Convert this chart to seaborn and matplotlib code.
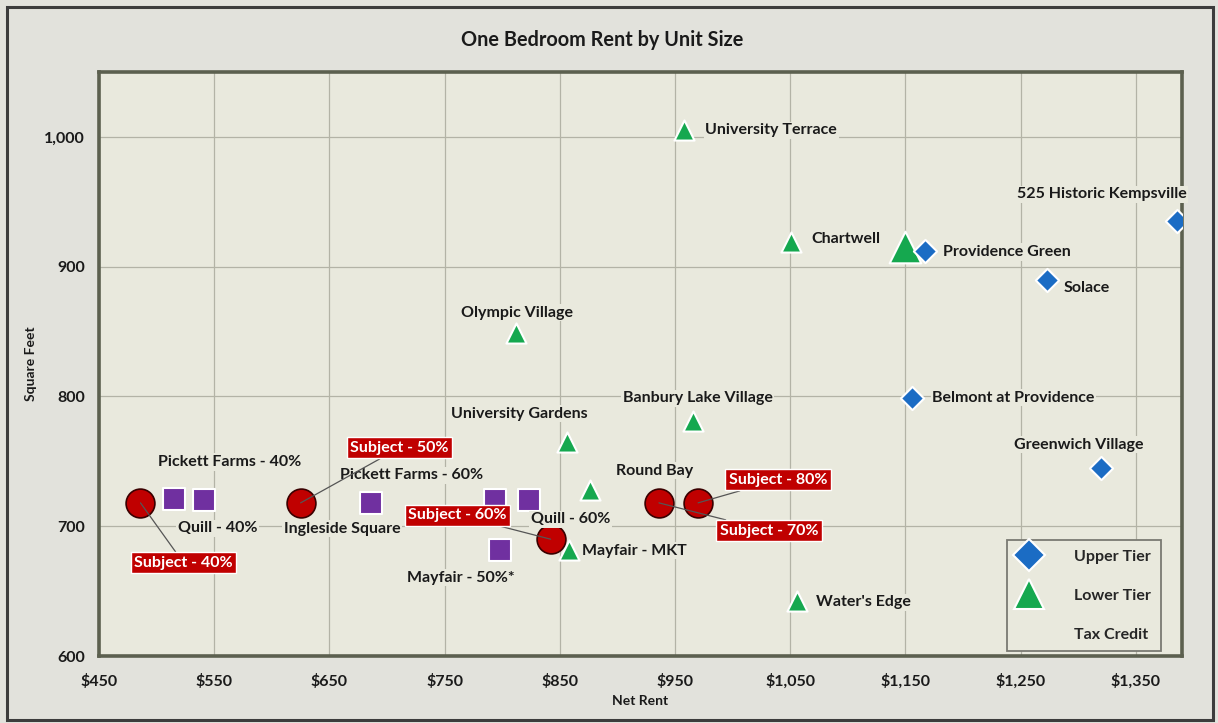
import matplotlib
matplotlib.use("Agg")
import matplotlib.pyplot as plt
import seaborn as sns
import pandas as pd
from matplotlib.lines import Line2D
from matplotlib.patches import Rectangle
from matplotlib.ticker import FuncFormatter

# ---------------- data ----------------
upper_names = ["525 Historic Kempsville", "Providence Green", "Solace",
               "Belmont at Providence", "Greenwich Village"]
upper_rent = [1386, 1167, 1273, 1156, 1320]
upper_sqft = [935, 912, 890, 799, 745]

lower_names = ["University Terrace", "Chartwell", "Olympic Village",
               "Banbury Lake Village", "University Gardens", "Round Bay",
               "Mayfair - MKT", "Water's Edge"]
lower_rent = [958, 1051, 812, 966, 856, 876, 858, 1056]
lower_sqft = [1005, 919, 849, 781, 765, 728, 682, 642]

# larger lower-tier marker near Providence Green
lower_big_rent = [1150]
lower_big_sqft = [915]

tax_names = ["Pickett Farms - 40%", "Quill - 40%", "Ingleside Square",
             "Pickett Farms - 60%", "Quill - 60%", "Mayfair - 50%*"]
tax_rent = [515, 541, 686, 794, 823, 798]
tax_sqft = [721, 720, 718, 720, 720, 682]

subj_names = ["Subject - 40%", "Subject - 50%", "Subject - 60%",
              "Subject - 70%", "Subject - 80%"]
subj_rent = [486, 625, 842, 936, 970]
subj_sqft = [718, 718, 690, 718, 718]

x_ticks = [450, 550, 650, 750, 850, 950, 1050, 1150, 1250, 1350]
y_ticks = [600, 700, 800, 900, 1000]

# ---------------- layout (label offsets in pixels) ----------------
upper_off = [(-76, 27, "center"), (18, -1, "left"), (16, -8, "left"),
             (20, 0, "left"), (-23, 23, "center")]
lower_off = [(21, 0, "left"), (20, 3, "left"), (1, 20, "center"),
             (4, 23, "center"), (-47, 28, "center"), (65, 19, "center"),
             (13, -1, "left"), (19, -1, "left")]
tax_off = [(56, 37, "center"), (14, -28, "center"), (-29, -26, "center"),
           (-84, 25, "center"), (42, -19, "center"), (-39, -28, "center")]
subj_off = [(43, -60), (99, 55), (-93, 24), (110, -28), (80, 23)]

FIG_BG = "#e2e2dc"
AX_BG = "#e9e9dd"
BLUE = "#1b6cc4"
GREEN = "#15a84f"
PURPLE = "#7030a0"
RED = "#c00000"
FONTS = ["Lato", "DejaVu Sans"]

sns.set_theme(style="white")
plt.rcParams["font.family"] = FONTS
plt.rcParams["font.weight"] = "bold"

fig = plt.figure(figsize=(12.18, 7.23), dpi=100, facecolor=FIG_BG)
ax = fig.add_axes([99 / 1218, 1 - 656 / 723, (1182 - 99) / 1218, (656 - 72) / 723])
ax.set_facecolor(AX_BG)

up = pd.DataFrame({"rent": upper_rent, "sqft": upper_sqft})
lo = pd.DataFrame({"rent": lower_rent, "sqft": lower_sqft})
lob = pd.DataFrame({"rent": lower_big_rent, "sqft": lower_big_sqft})
tx = pd.DataFrame({"rent": tax_rent, "sqft": tax_sqft})
sb = pd.DataFrame({"rent": subj_rent, "sqft": subj_sqft})

sns.scatterplot(data=up, x="rent", y="sqft", marker="D", s=140, color=BLUE,
                edgecolor="white", linewidth=1.5, ax=ax, zorder=4)
sns.scatterplot(data=lo, x="rent", y="sqft", marker="^", s=210, color=GREEN,
                edgecolor="white", linewidth=1.5, ax=ax, zorder=4)
sns.scatterplot(data=lob, x="rent", y="sqft", marker="^", s=520, color=GREEN,
                edgecolor="white", linewidth=1.5, ax=ax, zorder=3)
sns.scatterplot(data=tx, x="rent", y="sqft", marker="s", s=260, color=PURPLE,
                edgecolor="white", linewidth=1.5, ax=ax, zorder=4)
sns.scatterplot(data=sb, x="rent", y="sqft", marker="o", s=430, color=RED,
                edgecolor="#3a0000", linewidth=1.2, ax=ax, zorder=5)

ax.set_xlim(450, 1390)
ax.set_ylim(600, 1050)
ax.set_xticks(x_ticks)
ax.set_yticks(y_ticks)
ax.xaxis.set_major_formatter(FuncFormatter(lambda v, p: f"${int(v):,}"))
ax.yaxis.set_major_formatter(FuncFormatter(lambda v, p: f"{int(v):,}"))
ax.grid(True, color="#b3b3a6", linewidth=0.9)
ax.set_axisbelow(True)
for sp in ax.spines.values():
    sp.set_color("#5c604f")
    sp.set_linewidth(2.6)
ax.tick_params(axis="both", which="both", length=5, color="#9a9a90", width=1,
               labelsize=11.5, pad=5, direction="out")
for lab in ax.get_xticklabels() + ax.get_yticklabels():
    lab.set_fontweight("bold")
    lab.set_color("#1a1a1a")
ax.tick_params(axis="x", pad=8)

ax.set_xlabel("Net Rent", fontsize=10, fontweight="bold", labelpad=4, color="#1a1a1a")
ax.set_ylabel("Square Feet", fontsize=10, fontweight="bold", labelpad=5, color="#1a1a1a")
fig.text(602 / 1218, 1 - 40 / 723, "One Bedroom Rent by Unit Size", ha="center",
         va="center", fontsize=14.3, fontweight="bold", color="#1a1a1a")

lbl_box = dict(boxstyle="square,pad=0.1", facecolor=AX_BG, edgecolor="none")
LFS = 11.5


def put_labels(names, xs, ys, offs):
    for n, x, y, (dx, dy, ha) in zip(names, xs, ys, offs):
        ax.annotate(n, (x, y), xytext=(dx, dy), textcoords="offset pixels",
                    ha=ha, va="center", fontsize=LFS, fontweight="bold",
                    color="#1a1a1a", bbox=lbl_box, zorder=6)


put_labels(upper_names, upper_rent, upper_sqft, upper_off)
put_labels(lower_names, lower_rent, lower_sqft, lower_off)
put_labels(tax_names, tax_rent, tax_sqft, tax_off)

for n, x, y, (dx, dy) in zip(subj_names, subj_rent, subj_sqft, subj_off):
    ax.annotate(n, (x, y), xytext=(dx, dy), textcoords="offset pixels",
                ha="center", va="center", fontsize=LFS, fontweight="bold",
                color="white",
                bbox=dict(boxstyle="square,pad=0.22", facecolor=RED,
                          edgecolor="white", linewidth=1),
                arrowprops=dict(arrowstyle="-", color="#555555", lw=0.9,
                                shrinkA=0, shrinkB=0),
                zorder=7)

handles = [
    Line2D([], [], marker="D", linestyle="none", markersize=16, color=BLUE,
           markeredgecolor="white", markeredgewidth=1.5),
    Line2D([], [], marker="^", linestyle="none", markersize=22, color=GREEN,
           markeredgecolor="white", markeredgewidth=1.5),
    Line2D([], [], marker="s", linestyle="none", markersize=0, color=AX_BG),
]
leg = ax.legend(handles, ["Upper Tier", "Lower Tier", "Tax Credit"],
                loc="lower left", bbox_to_anchor=(0.834, 0.0), frameon=True,
                fancybox=False, facecolor=AX_BG, edgecolor="#7a7a72",
                borderpad=0.6, labelspacing=1.55, handletextpad=2.0,
                handlelength=1.6, borderaxespad=0.3,
                prop={"weight": "bold", "size": LFS, "family": FONTS})
leg.get_frame().set_linewidth(1.3)
leg.get_frame().set_alpha(1)
leg.set_zorder(8)

fig.patches.append(Rectangle((7 / 1218, 3 / 723), 1 - 12 / 1218, 1 - 10 / 723,
                             transform=fig.transFigure, fill=False,
                             edgecolor="#3c3c3c", linewidth=2.2))

fig.savefig("out.png", dpi=100, facecolor=FIG_BG)
